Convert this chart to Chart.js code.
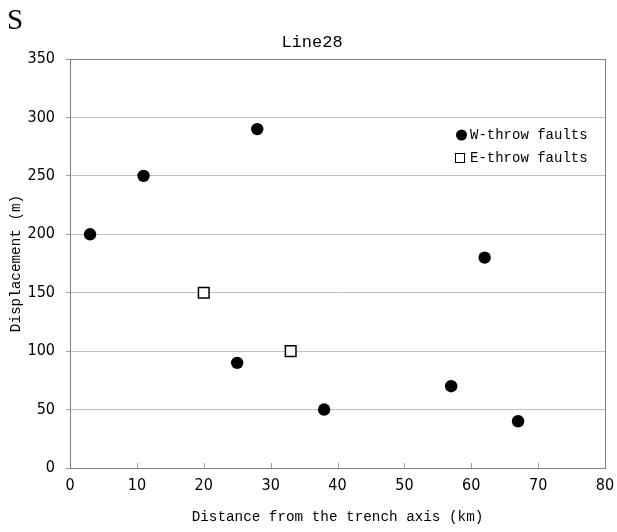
<!DOCTYPE html>
<html>
<head>
<meta charset="utf-8">
<script src="https://cdn.jsdelivr.net/npm/chart.js@4/dist/chart.umd.min.js"></script>
<style>
html,body{margin:0;padding:0;background:#fff;}
#wrap{position:relative;width:617px;height:532px;}
#S{position:absolute;left:7px;top:5px;font-family:"Liberation Serif",serif;font-size:29px;color:#000;line-height:1;}
canvas{position:absolute;left:0;top:0;}
</style>
</head>
<body>
<div id="wrap">
<canvas id="c" width="617" height="532"></canvas>
<div id="S">S</div>
</div>
<script>
const chartTitle = "Line28";
const xTitle = "Distance from the trench axis (km)";
const yTitle = "Displacement (m)";
const wLabel = "W-throw faults";
const eLabel = "E-throw faults";
const wX = [3, 11, 28, 25, 38, 57, 62, 67];
const wY = [200, 250, 290, 90, 50, 70, 180, 40];
const eX = [20, 33];
const eY = [150, 100];
const xMin = 0, xMax = 80, xStep = 10;
const yMin = 0, yMax = 350, yStep = 50;

const MONO = '"Liberation Mono", "DejaVu Sans Mono", monospace';
const NARROW = '"Liberation Sans Narrow", "DejaVu Sans Condensed", "Liberation Sans", sans-serif';

const overlay = {
  id: 'overlay',
  afterDraw(chart) {
    const ctx = chart.ctx;
    const a = chart.chartArea;
    const xs = chart.scales.x;
    ctx.save();
    ctx.strokeStyle = '#a0a0a0';
    ctx.lineWidth = 1;
    for (let v = xMin + xStep; v < xMax; v += xStep) {
      const px = Math.round(xs.getPixelForValue(v)) + 0.5;
      ctx.beginPath();
      ctx.moveTo(px, a.bottom);
      ctx.lineTo(px, a.bottom - 5);
      ctx.stroke();
    }
    ctx.strokeStyle = '#808080';
    ctx.strokeRect(Math.round(a.left) + 0.5, Math.round(a.top) + 0.5, Math.round(a.right - a.left), Math.round(a.bottom - a.top));
    ctx.fillStyle = '#000';
    ctx.textAlign = 'center';
    ctx.textBaseline = 'middle';
    ctx.font = '17px ' + MONO;
    ctx.fillText(chartTitle, 312, 42);
    ctx.font = '14.3px ' + MONO;
    ctx.fillText(xTitle, (a.left + a.right) / 2, 517);
    ctx.save();
    ctx.translate(16, (a.top + a.bottom) / 2);
    ctx.rotate(-Math.PI / 2);
    ctx.fillText(yTitle, 0, 0);
    ctx.restore();
    ctx.textAlign = 'left';
    ctx.font = '14px ' + MONO;
    ctx.fillStyle = '#000';
    ctx.beginPath();
    ctx.arc(461.5, 135, 5.5, 0, Math.PI * 2);
    ctx.fill();
    ctx.fillText(chart.data.datasets[0].label, 470, 135.5);
    ctx.fillStyle = '#fff';
    ctx.strokeStyle = '#000';
    ctx.lineWidth = 1;
    ctx.fillRect(455.5, 153.5, 9, 9);
    ctx.strokeRect(455.5, 153.5, 9, 9);
    ctx.fillStyle = '#000';
    ctx.fillText(chart.data.datasets[1].label, 470, 158.5);
    ctx.restore();
  }
};

new Chart(document.getElementById('c'), {
  type: 'scatter',
  data: {
    datasets: [
      {
        label: wLabel,
        data: wX.map((x, i) => ({x, y: wY[i]})),
        pointStyle: 'circle',
        pointRadius: 6.2,
        pointBackgroundColor: '#000',
        pointBorderColor: '#000',
        pointBorderWidth: 0,
        pointHoverRadius: 6.2
      },
      {
        label: eLabel,
        data: eX.map((x, i) => ({x, y: eY[i]})),
        pointStyle: 'rect',
        pointRadius: 7.5,
        pointBackgroundColor: '#fff',
        pointBorderColor: '#000',
        pointBorderWidth: 1.5,
        pointHoverRadius: 7.5
      }
    ]
  },
  options: {
    responsive: false,
    animation: false,
    devicePixelRatio: 1,
    layout: { padding: { left: 0, right: 12, top: 59, bottom: 0 } },
    plugins: { legend: { display: false }, title: { display: false }, tooltip: { enabled: false } },
    scales: {
      x: {
        type: 'linear', min: xMin, max: xMax,
        afterFit(s) { s.height = 64; s.paddingRight = 0; s.paddingLeft = 0; },
        border: { display: false },
        grid: { display: false, drawTicks: false },
        ticks: { stepSize: xStep, padding: 8, color: '#000', font: { family: NARROW, size: 16 }, maxRotation: 0 }
      },
      y: {
        type: 'linear', min: yMin, max: yMax,
        afterFit(s) { s.width = 70; },
        border: { display: false },
        grid: { color: '#c0c0c0', lineWidth: 1, tickLength: 4, tickColor: '#a0a0a0' },
        ticks: { stepSize: yStep, padding: 11, color: '#000', font: { family: NARROW, size: 16 } }
      }
    }
  },
  plugins: [overlay]
});
</script>
</body>
</html>
